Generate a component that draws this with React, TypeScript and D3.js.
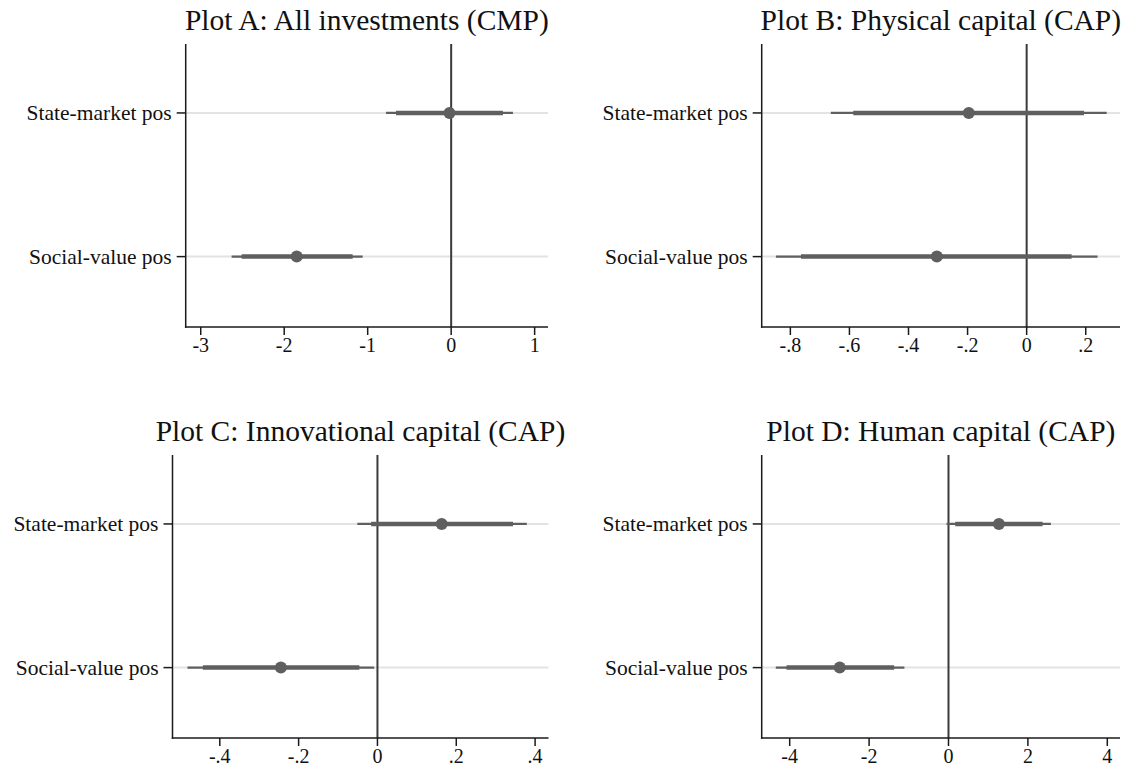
import React from "react";
import * as d3 from "d3";

// ---------- data ----------
const categories = ["State-market pos", "Social-value pos"];
const titles = [
  "Plot A: All investments (CMP)",
  "Plot B: Physical capital (CAP)",
  "Plot C: Innovational capital (CAP)",
  "Plot D: Human capital (CAP)",
];

const pointA = [-0.02, -1.85];
const outerLoA = [-0.78, -2.63];
const outerHiA = [0.74, -1.06];
const innerLoA = [-0.66, -2.51];
const innerHiA = [0.62, -1.18];
const ticksA = [-3, -2, -1, 0, 1];
const domainA = [-3.18, 1.16];

const pointB = [-0.196, -0.304];
const outerLoB = [-0.663, -0.849];
const outerHiB = [0.271, 0.24];
const innerLoB = [-0.587, -0.764];
const innerHiB = [0.194, 0.152];
const ticksB = [-0.8, -0.6, -0.4, -0.2, 0, 0.2];
const domainB = [-0.897, 0.316];

const pointC = [0.163, -0.245];
const outerLoC = [-0.051, -0.482];
const outerHiC = [0.379, -0.008];
const innerLoC = [-0.016, -0.443];
const innerHiC = [0.344, -0.046];
const ticksC = [-0.4, -0.2, 0, 0.2, 0.4];
const domainC = [-0.52, 0.434];

const pointD = [1.27, -2.74];
const outerLoD = [-0.05, -4.35];
const outerHiD = [2.58, -1.11];
const innerLoD = [0.17, -4.08];
const innerHiD = [2.37, -1.37];
const ticksD = [-4, -2, 0, 2, 4];
const domainD = [-4.705, 4.32];

// ---------- layout ----------
const W = 1127;
const H = 776;
const layouts = [
  { left: 185.7, right: 548, top: 44, bottom: 327, titleY: 30 },
  { left: 761.7, right: 1120, top: 44, bottom: 327, titleY: 30 },
  { left: 172.5, right: 548.5, top: 455, bottom: 738, titleY: 441 },
  { left: 761.7, right: 1120, top: 455, bottom: 738, titleY: 441 },
];

const panelsData = [
  { point: pointA, oLo: outerLoA, oHi: outerHiA, iLo: innerLoA, iHi: innerHiA, ticks: ticksA, domain: domainA },
  { point: pointB, oLo: outerLoB, oHi: outerHiB, iLo: innerLoB, iHi: innerHiB, ticks: ticksB, domain: domainB },
  { point: pointC, oLo: outerLoC, oHi: outerHiC, iLo: innerLoC, iHi: innerHiC, ticks: ticksC, domain: domainC },
  { point: pointD, oLo: outerLoD, oHi: outerHiD, iLo: innerLoD, iHi: innerHiD, ticks: ticksD, domain: domainD },
];

const FONT = "'Liberation Serif', 'Times New Roman', serif";
const MARK = "#5f5f5f";

function fmt(v: number): string {
  if (v === 0) return "0";
  const s = String(Math.round(v * 1000) / 1000);
  return s.replace(/^(-?)0\./, "$1.");
}

function Panel({ idx }: { idx: number }) {
  const L = layouts[idx];
  const d = panelsData[idx];
  const x = d3.scaleLinear().domain(d.domain).range([L.left, L.right]);
  const y = d3.scaleLinear().domain([0.52, 2.49]).range([L.top, L.bottom]);
  const rows = categories.map((c, i) => ({ c, pos: i + 1, i }));
  return (
    <g>
      <text
        x={(L.left + L.right) / 2}
        y={L.titleY}
        textAnchor="middle"
        fontFamily={FONT}
        fontSize={29.5}
        fill="#111"
      >
        {titles[idx]}
      </text>
      {rows.map((r) => (
        <line
          key={"g" + r.i}
          x1={L.left}
          x2={L.right}
          y1={y(r.pos)}
          y2={y(r.pos)}
          stroke="#e3e3e3"
          strokeWidth={2}
        />
      ))}
      <line x1={x(0)} x2={x(0)} y1={L.top} y2={L.bottom} stroke="#3a3a3a" strokeWidth={2} />
      {rows.map((r) => (
        <g key={"m" + r.i}>
          <line
            x1={x(d.oLo[r.i])}
            x2={x(d.oHi[r.i])}
            y1={y(r.pos)}
            y2={y(r.pos)}
            stroke={MARK}
            strokeWidth={2.2}
          />
          <line
            x1={x(d.iLo[r.i])}
            x2={x(d.iHi[r.i])}
            y1={y(r.pos)}
            y2={y(r.pos)}
            stroke={MARK}
            strokeWidth={4.5}
          />
          <circle cx={x(d.point[r.i])} cy={y(r.pos)} r={6} fill={MARK} />
        </g>
      ))}
      {/* axes */}
      <line x1={L.left} x2={L.left} y1={L.top} y2={L.bottom + 0.75} stroke="#1a1a1a" strokeWidth={1.5} />
      <line x1={L.left - 0.75} x2={L.right} y1={L.bottom} y2={L.bottom} stroke="#1a1a1a" strokeWidth={1.5} />
      {rows.map((r) => (
        <g key={"yt" + r.i}>
          <line x1={L.left - 9} x2={L.left} y1={y(r.pos)} y2={y(r.pos)} stroke="#1a1a1a" strokeWidth={1.5} />
          <text
            x={L.left - 14}
            y={y(r.pos)}
            dy="0.33em"
            textAnchor="end"
            fontFamily={FONT}
            fontSize={21.5}
            fill="#111"
          >
            {r.c}
          </text>
        </g>
      ))}
      {d.ticks.map((t) => (
        <g key={"xt" + t}>
          <line x1={x(t)} x2={x(t)} y1={L.bottom} y2={L.bottom + 8} stroke="#1a1a1a" strokeWidth={1.5} />
          <text
            x={x(t)}
            y={L.bottom + 25}
            textAnchor="middle"
            fontFamily={FONT}
            fontSize={20}
            fill="#111"
          >
            {fmt(t)}
          </text>
        </g>
      ))}
    </g>
  );
}

export default function App() {
  return (
    <svg
      width={W}
      height={H}
      style={{ position: "absolute", left: 0, top: 0, background: "#fff" }}
    >
      <rect x={0} y={0} width={W} height={H} fill="#fff" />
      {[0, 1, 2, 3].map((i) => (
        <Panel key={i} idx={i} />
      ))}
    </svg>
  );
}
